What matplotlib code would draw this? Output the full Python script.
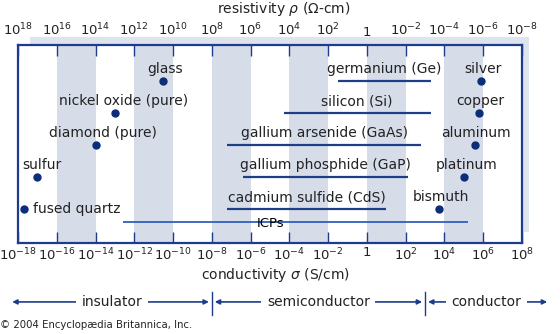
import matplotlib
matplotlib.use('Agg')
import matplotlib.pyplot as plt
import matplotlib.transforms as mtransforms
from matplotlib.patches import Rectangle

# values are log10 of conductivity (S/cm)
point_names = ['glass', 'nickel oxide (pure)', 'diamond (pure)', 'sulfur', 'fused quartz',
               'silver', 'copper', 'aluminum', 'platinum', 'bismuth']
point_logs = [-10.5, -13.0, -14.0, -17.0, -17.7, 5.9, 5.8, 5.6, 5.0, 3.7]
point_rows = [0, 1, 2, 3, 4, 0, 1, 2, 3, 4]

range_names = ['germanium (Ge)', 'silicon (Si)', 'gallium arsenide (GaAs)',
               'gallium phosphide (GaP)', 'cadmium sulfide (CdS)']
range_lo = [-1.5, -4.3, -7.2, -6.4, -7.2]
range_hi = [3.3, 3.3, 2.8, 2.1, 1.0]
range_rows = [0, 1, 2, 3, 4]

icp_name = 'ICPs'
icp_lo, icp_hi = -12.6, 5.2
icp_row = 4.4
icp_label_x = -5.7

sigma_exps = list(range(-18, 9, 2))
class_names = ['insulator', 'semiconductor', 'conductor']
class_bounds = [-18.3, -8, 3, 9.3]

navy = '#1c3c8c'
dot_col = '#0b2d7a'
line_col = '#1d3f86'
icp_col = '#2f5fc0'
band_col = '#d6dde9'
txt = '#222222'

plt.rcParams['font.family'] = 'DejaVu Sans'
plt.rcParams['mathtext.default'] = 'regular'
fs = 10
tfs = 9.5

fig = plt.figure(figsize=(5.6, 3.34), dpi=100)
ax = fig.add_axes([18/560, 91/334, 504/560, 198/334])

# light shadow strip behind the frame (top and right)
shadow = Rectangle((0.024, 0.056), 0.99, 0.984, facecolor='#dde4ee', edgecolor='none',
                   zorder=-1, transform=ax.transAxes)
fig.patches.append(shadow)

ax.set_xlim(-18, 8)
ax.set_ylim(5.06, -1.125)
for s in range(-16, 8, 4):
    ax.axvspan(s, s + 2, color=band_col, lw=0, zorder=0)

def exp_label(e):
    return '1' if e == 0 else r'$10^{%d}$' % e

ax.set_xticks(sigma_exps)
ax.set_xticklabels([exp_label(e) for e in sigma_exps])
ax.set_yticks([])
ax.tick_params(axis='x', direction='in', length=8, width=1, color=navy,
               pad=2.5, labelsize=tfs, labelcolor=txt)
for sp in ax.spines.values():
    sp.set_color(navy)
    sp.set_linewidth(1.6)

ax2 = ax.twiny()
ax2.set_xlim(ax.get_xlim())
ax2.set_xticks(sigma_exps)
ax2.set_xticklabels([exp_label(-e) for e in sigma_exps])
ax2.tick_params(axis='x', direction='in', length=8, width=1, color=navy,
                pad=4.5, labelsize=tfs, labelcolor=txt)
for sp in ax2.spines.values():
    sp.set_visible(False)

ax.set_xlabel(r'conductivity $\mathit{\sigma}$ (S/cm)', fontsize=fs, color=txt)
ax.xaxis.label.set_va('center')
ax.xaxis.set_label_coords(0.51, -0.16)
ax2.set_xlabel(r'resistivity $\mathit{\rho}$ ($\Omega$-cm)', fontsize=fs, color=txt)
ax2.xaxis.label.set_va('center')
ax2.xaxis.set_label_coords(0.527, 1.18)

# single materials
ax.plot(point_logs, point_rows, 'o', ms=5, color=dot_col, ls='none', zorder=4)
label_dx = [1, 6, 5, 3, 0, 1, 1, 0, 2, 2]
for name, x, r, dx in zip(point_names, point_logs, point_rows, label_dx):
    if name == 'fused quartz':
        ax.annotate(name, (x, r), xytext=(6.5, 0), textcoords='offset points',
                    ha='left', va='center', fontsize=fs, color=txt)
    else:
        ax.annotate(name, (x, r), xytext=(dx, 8.5), textcoords='offset points',
                    ha='center', va='center', fontsize=fs, color=txt)

# semiconductors
ax.hlines(range_rows, range_lo, range_hi, color=line_col, lw=1.6, zorder=3)
for name, lo, hi, r in zip(range_names, range_lo, range_hi, range_rows):
    ax.annotate(name, ((lo + hi) / 2, r), xytext=(0, 8.5), textcoords='offset points',
                ha='center', va='center', fontsize=fs, color=txt)

ax.hlines(icp_row, icp_lo, icp_hi, color=icp_col, lw=1.3, zorder=3)
ax.annotate(icp_name, (icp_label_x, icp_row), xytext=(0, -1.5), textcoords='offset points',
            ha='left', va='center', fontsize=fs - 0.5, color='black', zorder=4)

# class arrows below the axis
trans = mtransforms.blended_transform_factory(ax.transData, fig.transFigure)
arrow_y = 0.096
for i, name in enumerate(class_names):
    lo, hi = class_bounds[i], class_bounds[i + 1]
    lo_a = lo + (0.15 if i > 0 else 0)
    hi_a = hi - (0.15 if i < 2 else 0)
    ax.annotate('', xy=(lo_a, arrow_y), xytext=(hi_a, arrow_y), xycoords=trans,
                textcoords=trans, annotation_clip=False,
                arrowprops=dict(arrowstyle='<|-|>', color=navy, lw=1.2,
                                mutation_scale=7, shrinkA=0, shrinkB=0))
    ax.text((lo + hi) / 2, arrow_y, name, transform=trans, ha='center', va='center',
            fontsize=fs, color=txt, clip_on=False,
            bbox=dict(boxstyle='square,pad=0.4', fc='white', ec='none'))
for b in class_bounds[1:3]:
    ax.plot([b, b], [0.057, 0.126], color=navy, lw=1, transform=trans, clip_on=False)

fig.text(0.0, 0.027, '\u00a9 2004 Encyclop\u00e6dia Britannica, Inc.', fontsize=7.3,
         color=txt, ha='left', va='center')

fig.savefig('out.png', dpi=100)
